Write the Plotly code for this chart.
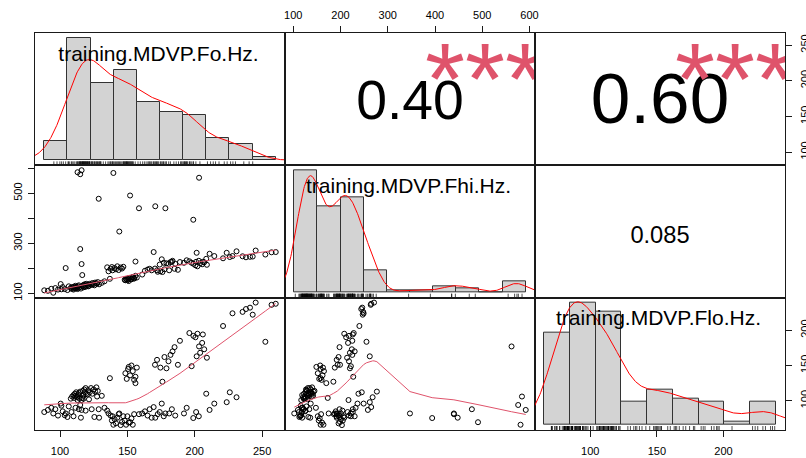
import numpy as np
import plotly.graph_objects as go

# ---------------- data ----------------
FO = [88.3, 91.0, 93.5, 95.0, 96.5, 98.5, 100.5, 102.0, 103.5, 104.2,
      105.5, 106.5, 108.0, 109.0, 110.0, 110.5, 111.0, 111.5, 112.0, 112.5,
      113.0, 113.5, 114.0, 114.5, 115.0, 115.0, 116.0, 116.0, 116.5, 117.0,
      117.5, 118.0, 118.5, 119.0, 119.5, 108.5, 110.0, 111.5, 113.0, 114.0,
      115.5, 117.5, 119.0, 101.0, 120.5, 121.0, 122.0, 123.0, 124.0, 125.0,
      126.0, 127.0, 128.0, 128.7, 121.5, 123.5, 125.5, 127.5, 129.0, 131.0,
      133.0, 135.0, 137.0, 137.5, 138.5, 139.0, 139.6, 136.0, 140.5, 141.5,
      142.5, 143.5, 144.0, 145.0, 146.0, 147.0, 148.5, 149.5, 150.5, 151.0,
      152.0, 153.0, 154.0, 155.0, 156.0, 157.0, 148.0, 149.0, 150.0, 151.0,
      152.0, 153.0, 154.0, 155.0, 156.0, 158.6, 161.0, 163.0, 165.0, 166.5,
      168.0, 169.5, 170.5, 172.0, 174.5, 176.0, 177.5, 179.0, 170.7, 178.2,
      172.5, 174.0, 175.5, 177.0, 180.5, 182.0, 183.5, 185.0, 187.5, 181.0,
      183.0, 185.5, 189.0, 192.0, 194.0, 196.0, 197.7, 198.9, 199.0, 200.5,
      201.4, 202.0, 203.2, 204.0, 205.5, 207.0, 209.0, 201.0, 203.0, 206.0,
      208.5, 211.0, 214.5, 221.0, 223.7, 226.0, 228.0, 231.0, 235.5, 238.0,
      241.0, 243.0, 245.2, 252.4, 257.0, 260.1]
FHI = [112.0, 110.0, 118.0, 102.2, 121.0, 115.0, 137.0, 125.0, 117.0, 201.0,
       113.0, 128.0, 122.0, 125.0, 119.0, 127.0, 123.0, 130.0, 126.0, 121.0,
       584.0, 128.0, 132.0, 124.0, 576.0, 277.0, 592.0, 217.0, 173.0, 129.0,
       134.0, 127.0, 136.0, 131.0, 138.0, 118.0, 115.0, 120.0, 117.0, 122.0,
       119.0, 124.0, 126.0, 116.0, 133.0, 128.0, 138.0, 135.0, 141.0, 137.0,
       143.0, 140.0, 145.0, 478.0, 130.0, 134.0, 132.0, 139.0, 136.0, 142.0,
       148.0, 204.0, 158.0, 198.0, 205.0, 192.0, 581.0, 188.0, 201.0, 196.0,
       208.0, 193.0, 347.0, 203.0, 199.0, 206.0, 152.0, 155.0, 158.0, 149.0,
       162.0, 157.0, 165.0, 160.0, 227.0, 163.0, 154.0, 158.0, 152.0, 161.0,
       491.0, 156.0, 164.0, 159.0, 170.0, 440.0, 175.0, 190.0, 195.0, 198.0,
       192.0, 265.0, 199.0, 192.0, 188.0, 185.0, 196.0, 220.0, 448.0, 440.0,
       186.0, 215.0, 236.0, 222.0, 218.0, 225.0, 230.0, 198.0, 194.0, 192.0,
       226.0, 218.0, 225.0, 222.0, 232.0, 228.0, 222.0, 394.0, 218.0, 212.0,
       262.0, 208.0, 562.0, 220.0, 216.0, 224.0, 214.0, 226.0, 230.0, 226.0,
       238.0, 258.0, 249.0, 240.0, 262.0, 245.0, 249.0, 268.0, 248.0, 244.0,
       246.0, 247.0, 271.0, 255.0, 264.0, 265.0]
FLO = [84.0, 87.0, 90.0, 82.0, 88.0, 79.0, 96.0, 85.0, 79.5, 82.0,
       77.0, 92.0, 103.0, 106.0, 108.0, 104.0, 110.0, 107.0, 112.0, 105.0,
       106.0, 109.0, 111.0, 103.0, 94.0, 113.0, 87.0, 101.0, 104.0, 114.0,
       108.0, 116.0, 112.0, 118.0, 110.0, 84.0, 78.0, 90.0, 101.0, 88.0,
       76.0, 103.0, 86.0, 93.0, 109.0, 115.0, 112.0, 118.0, 110.0, 116.0,
       113.0, 119.0, 114.0, 88.0, 102.0, 88.0, 77.0, 106.0, 76.0, 107.0,
       90.0, 86.0, 132.0, 79.0, 72.0, 78.0, 66.0, 82.0, 74.0, 68.0,
       76.0, 81.0, 82.0, 65.5, 70.0, 78.0, 139.0, 131.0, 145.0, 148.0,
       136.0, 150.0, 142.0, 129.6, 134.0, 147.0, 72.0, 66.0, 78.0, 69.0,
       69.6, 75.0, 66.0, 81.0, 125.0, 81.0, 82.0, 85.0, 79.0, 88.0,
       76.0, 91.0, 151.0, 158.0, 147.0, 127.0, 162.0, 146.0, 76.0, 82.0,
       81.0, 84.0, 96.0, 78.0, 156.0, 165.0, 170.0, 176.0, 151.0, 82.0,
       88.0, 79.0, 185.0, 82.0, 90.0, 196.0, 149.0, 75.5, 192.0, 190.0,
       163.0, 195.0, 177.0, 168.0, 182.0, 173.0, 161.0, 84.0, 78.0, 194.0,
       110.0, 87.0, 96.0, 206.0, 98.0, 112.0, 224.0, 105.0, 226.0, 230.0,
       232.0, 222.0, 239.2, 183.6, 236.0, 237.5]

VAR_NAMES = ["training.MDVP.Fo.Hz.", "training.MDVP.Fhi.Hz.", "training.MDVP.Flo.Hz."]
HIST_BIN_WIDTHS = [20, 50, 20]
FO_TICKS = [100, 150, 200, 250]
FHI_TICKS = [100, 200, 300, 400, 500, 600]
FHI_LEFT_LABELS = ["100", "", "300", "", "500", ""]
FLO_TICKS = [100, 150, 200]
CORR_LABELS = {(0, 1): "0.40", (0, 2): "0.60", (1, 2): "0.085"}
SIGNIF_LABELS = {(0, 1): "***", (0, 2): "***", (1, 2): ""}

# ---------------- layout constants ----------------
W, H = 806, 458
ML, MR, MT, MB = 35, 21, 33, 28
PANEL_W = (W - ML - MR) / 3.0
FONT = "Liberation Sans, Arial, sans-serif"
SMOOTH_COL = "#DF536B"
BORDER = "#1a1a1a"

data = [np.array(FO), np.array(FHI), np.array(FLO)]


def prange(v):
    lo, hi = float(np.min(v)), float(np.max(v))
    d = 0.04 * (hi - lo)
    return [lo - d, hi + d]


def kde(v):
    v = np.asarray(v, float)
    n = len(v)
    q75, q25 = np.percentile(v, [75, 25])
    s = min(np.std(v, ddof=1), (q75 - q25) / 1.34)
    bw = 0.9 * s * n ** (-0.2)
    g = np.linspace(v.min() - 3 * bw, v.max() + 3 * bw, 512)
    dens = np.exp(-0.5 * ((g[:, None] - v[None, :]) / bw) ** 2).sum(axis=1) / (n * bw * np.sqrt(2 * np.pi))
    return g, dens


def lowess(x, y, f=2 / 3, it=3):
    x = np.asarray(x, float)
    y = np.asarray(y, float)
    o = np.argsort(x, kind="mergesort")
    x, y = x[o], y[o]
    n = len(x)
    ns = max(min(int(f * n + 1e-7), n), 2)
    rw = np.ones(n)
    ys = np.zeros(n)
    for itn in range(it + 1):
        nleft, nright = 0, ns - 1
        for i in range(n):
            while nright < n - 1 and x[i] - x[nleft] > x[nright + 1] - x[i]:
                nleft += 1
                nright += 1
            h = max(x[i] - x[nleft], x[nright] - x[i])
            r = np.abs(x - x[i])
            w = np.zeros(n)
            if h > 0:
                m = r <= 0.999 * h
                w[m] = (1 - (r[m] / h) ** 3) ** 3
            w[r <= 0.001 * h] = 1.0
            w = w * rw
            s = w.sum()
            if s <= 0:
                ys[i] = y[i]
                continue
            w = w / s
            if h > 0:
                a = np.sum(w * x)
                c = np.sum(w * (x - a) ** 2)
                if np.sqrt(c) > 0.001 * (x[-1] - x[0]):
                    b = (x[i] - a) / c
                    w = w * (b * (x - a) + 1)
            ys[i] = np.sum(w * y)
        if itn == it:
            break
        res = np.abs(y - ys)
        cmad = 6 * np.median(res)
        if cmad < 1e-7 * np.mean(np.abs(y)):
            break
        rw = np.where(res <= 0.001 * cmad, 1.0,
                      np.where(res <= 0.999 * cmad, (1 - (res / cmad) ** 2) ** 2, 0.0))
    return x, ys


CHAR_W = {".": 0.278, "-": 0.584, "*": 0.389}


def strw(s):
    return sum(CHAR_W.get(c, 0.556) for c in s)


def ax_name(k, letter):
    return f"{letter}axis" if k == 1 else f"{letter}axis{k}"


def ax_ref(k, letter):
    return letter if k == 1 else f"{letter}{k}"


fig = go.Figure()
layout = {}
ranges = [prange(v) for v in data]
col_dom = [[0, 1 / 3], [1 / 3, 2 / 3], [2 / 3, 1]]
row_dom = [[2 / 3, 1], [1 / 3, 2 / 3], [0, 1 / 3]]

tickfont = dict(family=FONT, size=11, color="#000")

for i in range(3):
    for j in range(3):
        k = i * 3 + j + 1
        xr, yr = ranges[j], ranges[i]
        xa = dict(domain=col_dom[j], anchor=ax_ref(k, "y"), range=xr, showline=True, mirror=True,
                  linecolor=BORDER, linewidth=1, showgrid=False, zeroline=False,
                  ticks="", showticklabels=False, fixedrange=True, automargin=False)
        ya = dict(domain=row_dom[i], anchor=ax_ref(k, "x"), range=yr, showline=True, mirror=True,
                  linecolor=BORDER, linewidth=1, showgrid=False, zeroline=False,
                  ticks="", showticklabels=False, fixedrange=True, automargin=False)
        xs, ys_ = ax_ref(k, "x"), ax_ref(k, "y")

        if i > j:
            fig.add_trace(go.Scatter(x=data[j], y=data[i], mode="markers", xaxis=xs, yaxis=ys_,
                                     marker=dict(symbol="circle-open", size=5, color="#000",
                                                 line=dict(width=1)),
                                     showlegend=False, hoverinfo="skip"))
            lx, ly = lowess(data[j], data[i])
            fig.add_trace(go.Scatter(x=lx, y=ly, mode="lines", xaxis=xs, yaxis=ys_,
                                     line=dict(color=SMOOTH_COL, width=1),
                                     showlegend=False, hoverinfo="skip"))
        elif i == j:
            fig.add_trace(go.Scatter(x=[xr[0]], y=[yr[0]], mode="lines", xaxis=xs, yaxis=ys_,
                                     showlegend=False, hoverinfo="skip"))
            v = data[i]
            bwid = HIST_BIN_WIDTHS[i]
            b0 = np.floor(v.min() / bwid) * bwid
            b1 = np.ceil(v.max() / bwid) * bwid
            edges = np.arange(b0, b1 + bwid / 2, bwid)
            counts, _ = np.histogram(v, bins=edges)
            dens = counts / (len(v) * bwid)
            hx = [b0 - 0.04 * (b1 - b0), b1 + 0.04 * (b1 - b0)]
            dmax = dens.max()
            hy = [-0.04 * dmax, 1.04 * dmax]
            ko = 10 + i
            hxs, hys = ax_ref(ko, "x"), ax_ref(ko, "y")
            layout[ax_name(ko, "x")] = dict(overlaying=xs, anchor=hys, range=hx, visible=False,
                                            fixedrange=True, automargin=False)
            layout[ax_name(ko, "y")] = dict(overlaying=ys_, anchor=hxs, range=hy, visible=False,
                                            fixedrange=True, automargin=False)
            centers = (edges[:-1] + edges[1:]) / 2
            fig.add_trace(go.Bar(x=centers, y=dens, width=bwid, xaxis=hxs, yaxis=hys,
                                 marker=dict(color="#D3D3D3", line=dict(color="#333", width=1)),
                                 showlegend=False, hoverinfo="skip"))
            g, kd = kde(v)
            fig.add_trace(go.Scatter(x=g, y=kd, mode="lines", xaxis=hxs, yaxis=hys,
                                     line=dict(color="#FF0000", width=1),
                                     showlegend=False, hoverinfo="skip"))
            t = 0.03 * (hy[1] - hy[0])
            rx, ry = [], []
            for val in v:
                rx += [val, val, None]
                ry += [hy[0], hy[0] + t, None]
            fig.add_trace(go.Scatter(x=rx, y=ry, mode="lines", xaxis=hxs, yaxis=hys,
                                     line=dict(color="#000", width=0.7),
                                     showlegend=False, hoverinfo="skip"))
            fig.add_trace(go.Scatter(x=[hx[0] + 0.494 * (hx[1] - hx[0])],
                                     y=[hy[0] + 0.83 * (hy[1] - hy[0])],
                                     mode="text", text=[VAR_NAMES[i]], textposition="middle center",
                                     textfont=dict(family=FONT, size=21, color="#000"),
                                     xaxis=hxs, yaxis=hys, showlegend=False, hoverinfo="skip"))
        else:
            lab = CORR_LABELS[(i, j)]
            sig = SIGNIF_LABELS[(i, j)]
            r = abs(float(lab))
            base = 0.8 * PANEL_W / strw(lab)
            fig.add_trace(go.Scatter(x=[xr[0] + 0.5 * (xr[1] - xr[0])],
                                     y=[yr[0] + 0.458 * (yr[1] - yr[0])],
                                     mode="text", text=[lab], textposition="middle center",
                                     textfont=dict(family=FONT, size=base * (r + 0.3) / 1.3, color="#000"),
                                     xaxis=xs, yaxis=ys_, showlegend=False, hoverinfo="skip"))
            if sig.strip():
                fig.add_trace(go.Scatter(x=[xr[0] + 0.8 * (xr[1] - xr[0])],
                                         y=[yr[0] + 0.58 * (yr[1] - yr[0])],
                                         mode="text", text=[sig], textposition="middle center",
                                         textfont=dict(family=FONT, size=base, color=SMOOTH_COL),
                                         xaxis=xs, yaxis=ys_, showlegend=False, hoverinfo="skip"))
        layout[ax_name(k, "x")] = xa
        layout[ax_name(k, "y")] = ya

tick_common = dict(ticks="outside", ticklen=6, tickwidth=1, tickcolor=BORDER,
                   showticklabels=True, tickfont=tickfont)
# top axis (Fhi) over column 2
layout["xaxis2"].update(side="top", tickvals=FHI_TICKS, ticktext=[str(t) for t in FHI_TICKS],
                        ticklabelstandoff=3, **tick_common)
# right axis (Fo) beside row 1
layout["yaxis3"].update(side="right", tickvals=FO_TICKS, ticktext=[str(t) for t in FO_TICKS],
                        tickangle=-90, ticklabelstandoff=4, **tick_common)
# left axis (Fhi) beside row 2
layout["yaxis4"].update(side="left", tickvals=FHI_TICKS, ticktext=FHI_LEFT_LABELS,
                        tickangle=-90, ticklabelstandoff=2, **tick_common)
# bottom axis (Fo) under column 1
layout["xaxis7"].update(side="bottom", tickvals=FO_TICKS, ticktext=[str(t) for t in FO_TICKS],
                        ticklabelstandoff=5, **tick_common)
# bottom and right axes (Flo) on panel 3,3
layout["xaxis9"].update(side="bottom", tickvals=FLO_TICKS, ticktext=[str(t) for t in FLO_TICKS],
                        ticklabelstandoff=5, **tick_common)
layout["yaxis9"].update(side="right", tickvals=FLO_TICKS, ticktext=[str(t) for t in FLO_TICKS],
                        tickangle=-90, ticklabelstandoff=4, **tick_common)

fig.update_layout(width=W, height=H, autosize=False,
                  margin=dict(l=ML, r=MR, t=MT, b=MB, pad=0, autoexpand=False),
                  paper_bgcolor="white", plot_bgcolor="white",
                  showlegend=False, bargap=0, **layout)

fig.write_html("out.html")
